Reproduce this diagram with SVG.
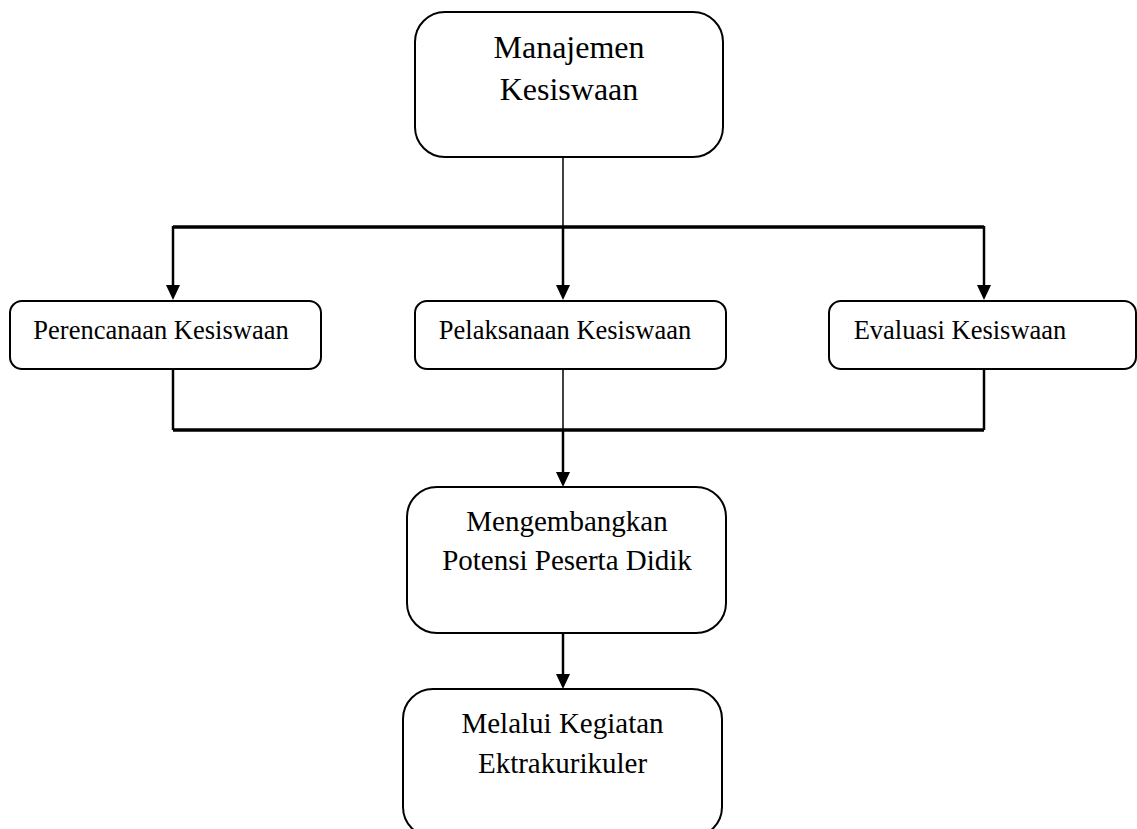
<svg xmlns="http://www.w3.org/2000/svg" width="1137" height="829" viewBox="0 0 1137 829">
<style>
.box{fill:#fff;stroke:#000;stroke-width:2}
.t{font-family:"Liberation Serif","Times New Roman",serif;fill:#000;text-anchor:middle}
.big{font-size:32px}
.mid{font-size:29px}
.sm{font-size:26.5px}
.c{fill:none;stroke:#000;stroke-width:2.5}
.thin{fill:none;stroke:#000;stroke-width:1.5}
.bar{fill:none;stroke:#000;stroke-width:3.5}
</style>
<defs>
<marker id="ah" markerWidth="8" markerHeight="8" refX="8" refY="4" orient="auto" markerUnits="userSpaceOnUse" viewBox="0 0 8 8">
<path d="M0,0 L8,4 L0,8 Z" fill="#000"/>
</marker>
</defs>
<rect width="1137" height="829" fill="#fff"/>
<g id="connectors">
<path class="thin" d="M563,157 V226"/>
<path class="bar" d="M173,227 H984" stroke-width="3"/>
<path class="c" d="M173,226 V286"/>
<path class="c" d="M563,226 V286"/>
<path class="c" d="M984,226 V286"/>
<polygon points="166,285 180,285 173,300" fill="#000"/>
<polygon points="556,285 570,285 563,300" fill="#000"/>
<polygon points="977,285 991,285 984,300" fill="#000"/>
<path class="c" d="M173,369 V430"/>
<path class="c" d="M984,369 V430"/>
<path class="thin" d="M563,369 V430"/>
<path class="bar" d="M173,430 H984"/>
<path class="c" d="M563,430 V473"/>
<polygon points="556,472 570,472 563,487" fill="#000"/>
<path class="c" d="M563,633 V675"/>
<polygon points="556,674 570,674 563,689" fill="#000"/>
</g>
<g id="node-manajemen">
<rect class="box" x="415" y="12" width="308" height="145" rx="30"/>
<text class="t big" x="569" y="58">Manajemen</text>
<text class="t big" x="569" y="100">Kesiswaan</text>
</g>
<g id="node-perencanaan">
<rect class="box" x="10" y="301" width="311" height="68" rx="12"/>
<text class="t sm" x="161" y="339">Perencanaan Kesiswaan</text>
</g>
<g id="node-pelaksanaan">
<rect class="box" x="415" y="301" width="311" height="68" rx="12"/>
<text class="t sm" x="565" y="339">Pelaksanaan Kesiswaan</text>
</g>
<g id="node-evaluasi">
<rect class="box" x="829" y="301" width="307" height="68" rx="12"/>
<text class="t sm" x="960" y="339">Evaluasi Kesiswaan</text>
</g>
<g id="node-mengembangkan">
<rect class="box" x="407" y="487" width="319" height="146" rx="30"/>
<text class="t mid" x="567" y="531">Mengembangkan</text>
<text class="t mid" x="567" y="570">Potensi Peserta Didik</text>
</g>
<g id="node-melalui">
<rect class="box" x="403" y="689" width="319" height="148" rx="30"/>
<text class="t mid" x="562.5" y="733">Melalui Kegiatan</text>
<text class="t mid" x="562.5" y="773">Ektrakurikuler</text>
</g>
</svg>
